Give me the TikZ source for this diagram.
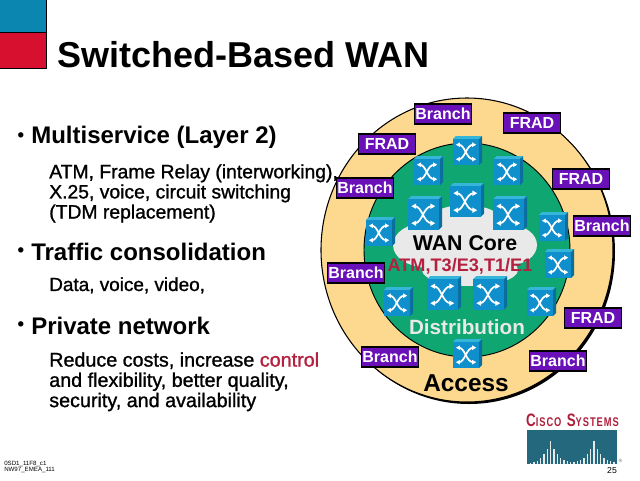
\documentclass[tikz,border=0pt]{standalone}
\usepackage{fontspec}
\setmainfont{Liberation Sans}
\newfontfamily\semi[FakeBold=1.1]{Liberation Sans}
\definecolor{ringY}{HTML}{FDD98F}
\definecolor{ringG}{HTML}{0FA671}
\definecolor{cloudG}{HTML}{E9E9E9}
\definecolor{swF}{HTML}{0F8FCB}
\definecolor{swT}{HTML}{35B5D8}
\definecolor{swS}{HTML}{0A6F9E}
\definecolor{purp}{HTML}{6A10B8}
\definecolor{redT}{HTML}{B5203F}
\definecolor{logoT}{HTML}{23687C}
\definecolor{logoR}{HTML}{B01E3A}
\definecolor{sqB}{HTML}{0A86B0}
\definecolor{sqR}{HTML}{D8102F}
\newcommand{\fs}[1]{\fontsize{#1}{#1}\selectfont}
\tikzset{
  lab/.style={draw=black,line width=1.2pt,fill=purp,text=white,font=\fs{12}\bfseries,inner sep=0pt,minimum width=43pt,minimum height=15pt},
  bighead/.style={anchor=west,font=\fs{18}\bfseries,inner sep=0pt},
  bul/.style={font=\fs{14}\bfseries,inner sep=0pt},
  body/.style={anchor=north west,align=left,font=\fs{14.2}\semi,inner sep=0pt},
  pics/switch/.style={code={
    \fill[swT] (0,.1)--(.1,0)--(1,0)--(.9,.1)--cycle;
    \fill[swS] (.9,.1)--(1,0)--(1,.9)--(.9,1)--cycle;
    \fill[swF] (0,.1) rectangle (.9,1);
    \draw[white,line width=1.3pt] (.2,.3) .. controls (.42,.3) and (.45,.8) .. (.7,.8);
    \draw[white,line width=1.3pt] (.2,.8) .. controls (.42,.8) and (.45,.3) .. (.7,.3);
    \fill[white] (.1,.3)--(.24,.22)--(.24,.38)--cycle;
    \fill[white] (.1,.8)--(.24,.72)--(.24,.88)--cycle;
    \fill[white] (.8,.3)--(.66,.22)--(.66,.38)--cycle;
    \fill[white] (.8,.8)--(.66,.72)--(.66,.88)--cycle;
  }}
}
\begin{document}
\begin{tikzpicture}[x=0.75pt,y=-0.75pt]
\useasboundingbox (0,0) rectangle (640,480);
\fill[white] (0,0) rectangle (640,480);
% corner squares
\fill[sqB] (0,0) rectangle (46,32);
\fill[sqR] (0,32) rectangle (46,68);
\draw[black,line width=.6pt] (46,0)--(46,68)--(0,68);
\draw[black,line width=.6pt] (0,32)--(46,32);
% title
\node[anchor=west,font=\fs{27}\bfseries,inner sep=0pt] (title) at (57,55) {Switched-Based WAN};
% left text
\node[bul] (d1) at (21,137) {•};
\node[bighead] (b1) at (31,137) {Multiservice (Layer 2)};
\node[body,font=\fs{14.5}\semi] (t1) at (49,164) {ATM, Frame Relay (interworking),\\[0.6pt]X.25, voice, circuit switching\\[0.6pt](TDM replacement)};
\node[bul] (d2) at (21,252) {•};
\node[bighead] (b2) at (31,252) {Traffic consolidation};
\node[body] (t2) at (49,277) {Data, voice, video,};
\node[bul] (d3) at (21,326) {•};
\node[bighead] (b3) at (31,326) {Private network};
\node[body,font=\fs{14.8}\semi] (t3) at (49,352) {Reduce costs, increase \textcolor{redT}{control}\\[0.4pt]and flexibility, better quality,\\[0.4pt]security, and availability};
\node[anchor=north west,align=left,font=\fs{4.6},inner sep=0pt] (foot) at (4,461) {0SD1\_11F8\_c1\\NW97\_EMEA\_111};
% rings
\fill[black] (469,252) ellipse [x radius=146,y radius=152];
\fill[ringY,draw=black,line width=.8pt] (467,250) ellipse [x radius=146,y radius=152];
\fill[ringG,draw=black,line width=.7pt] (467,250) ellipse [x radius=103,y radius=107];
% cloud
\fill[cloudG] (465,245) ellipse [x radius=66,y radius=30];
\fill[cloudG] (425,245) ellipse [x radius=32,y radius=22];
\fill[cloudG] (510,245) ellipse [x radius=27,y radius=20];
\fill[cloudG] (465,225) ellipse [x radius=40,y radius=20];
\fill[cloudG] (505,225) ellipse [x radius=20,y radius=14];
\fill[cloudG] (470,270) ellipse [x radius=48,y radius=16];
% switches
\foreach \x/\y/\s in {453/136/29,414/156/29,494/156/29,450/183/34,408/196/34,493/196/34,366/217/29,539/212/29,545/249/29,384/287/29,427/276/34,473/276/34,527/287/29,453/339/29}{
  \begin{scope}[shift={(\x,\y)},scale=\s]
    \pic[transform shape] {switch};
  \end{scope}
}
% ring labels
\node[font=\fs{16}\bfseries,inner sep=0pt] (core) at (465,243) {WAN Core};
\node[font=\fs{13.6}\bfseries,text=redT,inner sep=0pt] (atm) at (460,266) {ATM,T3/E3,T1/E1};
\node[font=\fs{15.5}\bfseries,text=cloudG,inner sep=0pt] (dist) at (467,327) {Distribution};
\node[font=\fs{18.3}\bfseries,inner sep=0pt] (acc) at (466,383) {Access};
% boxes
\node[lab] (l1) at (443,114) {Branch};
\node[lab] (l2) at (532,123) {FRAD};
\node[lab] (l3) at (387,144) {FRAD};
\node[lab] (l4) at (581,179) {FRAD};
\node[lab] (l5) at (365,188) {Branch};
\node[lab] (l6) at (602,226) {Branch};
\node[lab] (l7) at (356,273) {Branch};
\node[lab] (l8) at (593,318) {FRAD};
\node[lab] (l9) at (390,357) {Branch};
\node[lab] (l10) at (558,361) {Branch};
% logo
\node[font=\fs{10}\bfseries\addfontfeature{LetterSpace=10},text=logoR,inner sep=0pt,yscale=1.35,transform shape] (cisco) at (572.5,420.5) {C\fs{7}ISCO\hspace{4pt}\fs{10}S\fs{7}YSTEMS};
\fill[logoT] (527,430) rectangle (617,464);
\foreach \x/\h in {530.7/1.5,534/2,537.3/3,540.7/6,544/10,547.3/15,550.7/23,554/15,557.3/10,560.7/6,564/4,567.3/3,570.7/2,574/2,577.3/3,580.7/4,584/6,587.3/10,590.7/15,594/23,597.3/15,600.7/10,604/6,607.3/4,610.7/3,614/2}
  \fill[cloudG] (\x-.7,464) rectangle (\x+.7,464-\h);
\node[font=\fs{3.5},text=black!60,inner sep=0pt] (reg) at (620.5,461) {®};
\node[font=\fs{6.5},inner sep=0pt] (pg) at (612,471) {25};
\end{tikzpicture}
\end{document}
